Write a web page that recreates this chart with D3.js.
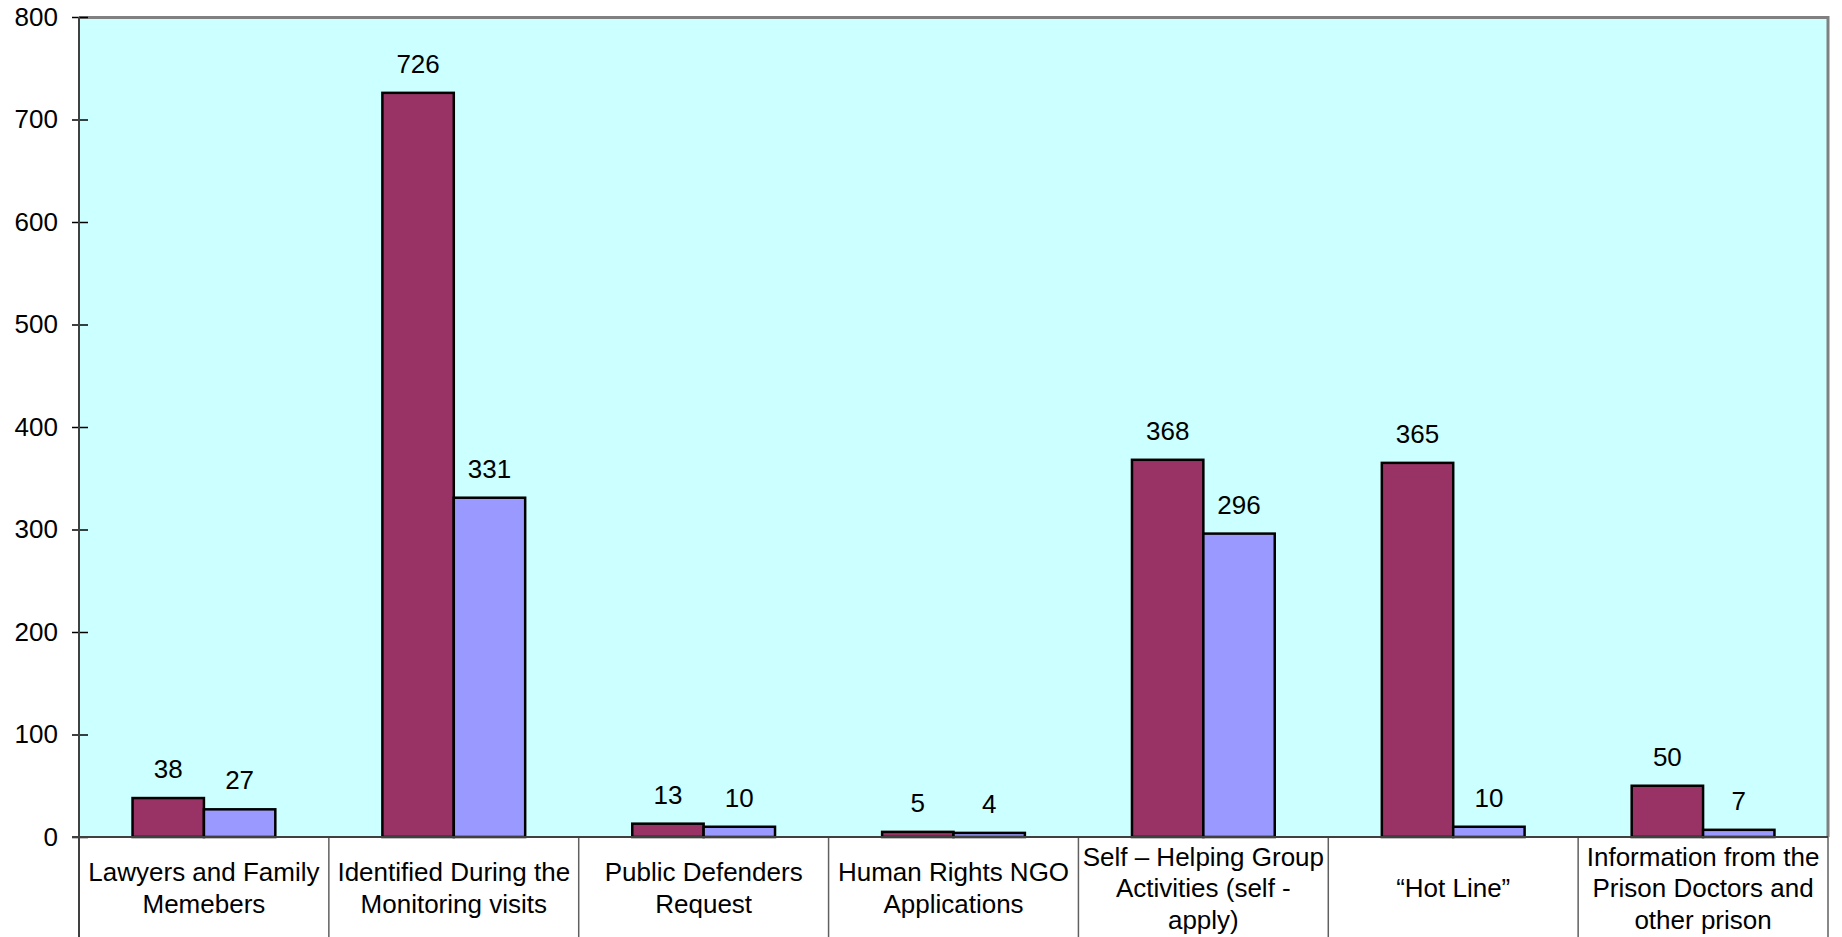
<!DOCTYPE html>
<html>
<head>
<meta charset="utf-8">
<script src="https://cdn.jsdelivr.net/npm/d3@7"></script>
<style>
  body { margin: 0; background: #fff; }
  text { font-family: "Liberation Sans", Arial, sans-serif; fill: #000; }
</style>
</head>
<body>
<svg id="chart"></svg>
<script>
// Data
const categories = [
    "Lawyers and Family Memebers",
    "Identified During the Monitoring visits",
    "Public Defenders Request",
    "Human Rights NGO Applications",
    "Self \u2013 Helping Group Activities (self - apply)",
    "\u201cHot Line\u201d",
    "Information from the Prison Doctors and other prison"
];
const seriesA = [38, 726, 13, 5, 368, 365, 50];
const seriesB = [27, 331, 10, 4, 296, 10, 7];
const yTicks = [0, 100, 200, 300, 400, 500, 600, 700, 800];
const colors = ["#993366", "#9999FF"];

const W = 1842, H = 937;
const margin = { top: 17, right: 14, bottom: 100, left: 79 };
const width = W - margin.left - margin.right;
const height = H - margin.top - margin.bottom;

const svg = d3.select("#chart").attr("width", W).attr("height", H);
const g = svg.append("g").attr("transform", `translate(${margin.left},${margin.top})`);

// Scales
const x = d3.scaleBand().domain(categories).range([0, width]).paddingInner(0).paddingOuter(0);
const x1 = d3.scaleBand().domain([0, 1]).range([0, x.bandwidth()]).paddingOuter(0.75).paddingInner(0);
const y = d3.scaleLinear().domain([0, 800]).range([height, 0]);

// Plot background
g.append("rect")
    .attr("width", width).attr("height", height)
    .attr("fill", "#CCFFFF");

// Top and right border
g.append("path")
    .attr("d", `M0,0.5H${width}V${height}`)
    .attr("fill", "none")
    .attr("stroke", "#808080")
    .attr("stroke-width", 3);

// Bars
const groups = g.selectAll(".grp")
    .data(categories)
    .enter().append("g")
    .attr("transform", d => `translate(${x(d)},0)`);

[seriesA, seriesB].forEach((series, si) => {
    groups.append("rect")
        .attr("x", x1(si))
        .attr("width", x1.bandwidth())
        .attr("y", (d, i) => y(series[i]))
        .attr("height", (d, i) => height - y(series[i]))
        .attr("fill", colors[si])
        .attr("stroke", "#000")
        .attr("stroke-width", 2.5);

    groups.append("text")
        .attr("x", x1(si) + x1.bandwidth() / 2)
        .attr("y", (d, i) => y(series[i]) - 20)
        .attr("text-anchor", "middle")
        .style("font-size", "26px")
        .text((d, i) => series[i]);
});

// Y axis
const yAxis = g.append("g")
    .call(d3.axisLeft(y).tickValues(yTicks).tickSize(0).tickPadding(21));
yAxis.select(".domain").remove();
yAxis.selectAll("text").style("font-size", "26px").attr("font-family", null);
yAxis.selectAll(".tick").append("line")
    .attr("x1", -7).attr("x2", 9)
    .attr("stroke", "#000").attr("stroke-width", 1.5);

g.append("line")
    .attr("x1", 0).attr("x2", 0)
    .attr("y1", 0).attr("y2", H - margin.top)
    .attr("stroke", "#404040").attr("stroke-width", 2);

// Category boxes
const dividers = d3.range(categories.length + 1).map(i => i * x.step());
g.selectAll(".div")
    .data(dividers.slice(1))
    .enter().append("line")
    .attr("x1", d => d).attr("x2", d => d)
    .attr("y1", height).attr("y2", H - margin.top)
    .attr("stroke", "#606060").attr("stroke-width", 1.5);

// X axis line
g.append("line")
    .attr("x1", -7).attr("x2", width)
    .attr("y1", height).attr("y2", height)
    .attr("stroke", "#404040").attr("stroke-width", 2);

// Category labels with wrapping
const measure = svg.append("text").style("font-size", "26px").attr("visibility", "hidden");
function wrapLines(str, maxW) {
    const words = str.split(" ");
    const lines = [];
    let cur = "";
    words.forEach(w => {
        const test = cur ? cur + " " + w : w;
        measure.text(test);
        if (measure.node().getComputedTextLength() > maxW && cur) {
            lines.push(cur);
            cur = w;
        } else {
            cur = test;
        }
    });
    if (cur) lines.push(cur);
    return lines;
}

const lineH = 31.5;
const centerY = height + 60;
categories.forEach(c => {
    const lines = wrapLines(c, 244);
    const t = g.append("text")
        .attr("text-anchor", "middle")
        .style("font-size", "26px");
    const y0 = centerY - (lines.length - 1) * lineH / 2;
    lines.forEach((l, i) => {
        t.append("tspan")
            .attr("x", x(c) + x.bandwidth() / 2)
            .attr("y", y0 + i * lineH)
            .text(l);
    });
});
measure.remove();
</script>
</body>
</html>
